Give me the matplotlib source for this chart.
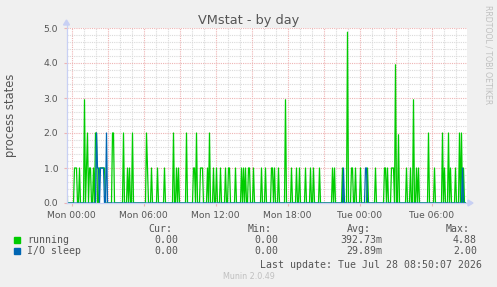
import numpy as np
import matplotlib
matplotlib.use("Agg")
import matplotlib.pyplot as plt
from matplotlib.ticker import FixedLocator
from matplotlib.patches import Rectangle, Polygon

# ---------------- data (minutes since Mon 00:00, 5-minute samples) ----------------
start_min = -25
n_samples = 400
step_min = 5

running_minutes = [-25, 15, 20, 25, 40, 65, 75, 80, 90, 95, 110, 120, 125, 140, 145, 150, 155,
                   160, 165, 205, 210, 260, 280, 290, 305, 375, 380, 400, 430, 465, 510, 525,
                   535, 575, 610, 615, 625, 645, 650, 655, 680, 690, 710, 725, 745, 770, 785,
                   790, 820, 850, 860, 870, 885, 890, 910, 950, 970, 1000, 1005, 1015, 1035,
                   1070, 1100, 1125, 1140, 1170, 1195, 1210, 1240, 1305, 1315, 1355, 1380,
                   1400, 1405, 1420, 1445, 1480, 1520, 1565, 1570, 1580, 1600, 1605, 1610,
                   1620, 1635, 1675, 1695, 1710, 1725, 1735, 1785, 1815, 1855, 1865, 1885,
                   1895, 1920, 1940, 1950, 1960]
running_values = [2, 1, 1, 1, 1, 2.95, 1, 2, 1, 1, 1, 2, 2, 1, 1, 1, 1,
                  1, 1, 2, 2, 2, 1, 1, 2, 2, 1, 1, 1, 1, 2, 1,
                  1, 2, 1, 1, 2, 1, 1, 1, 1, 2, 1, 1, 1, 1, 1,
                  1, 1, 1, 1, 1, 1, 1, 1, 1, 1, 1, 1, 1, 1,
                  2.95, 1, 1, 1, 1, 1, 1, 1, 1, 1, 1, 4.88,
                  1, 1, 1, 1, 1, 1, 1, 1, 1, 1, 1, 1,
                  3.95, 1.95, 1, 1, 2.95, 1, 1, 2, 1, 2, 1, 2,
                  1, 1, 2, 2, 1]

iosleep_minutes = [125, 130, 135, 145, 150, 155, 160, 175, 1360, 1470, 1475, 1955]
iosleep_values = [2, 1, 1, 1, 1, 1, 1, 2, 1, 1, 1, 1]

legend_names = ["running", "I/O sleep"]
legend_cur = ["0.00", "0.00"]
legend_min = ["0.00", "0.00"]
legend_avg = ["392.73m", "29.89m"]
legend_max = ["4.88", "2.00"]
x_tick_labels = ["Mon 00:00", "Mon 06:00", "Mon 12:00", "Mon 18:00", "Tue 00:00", "Tue 06:00"]
x_tick_hours = [0, 6, 12, 18, 24, 30]
y_tick_values = [0.0, 1.0, 2.0, 3.0, 4.0, 5.0]

# ---------------- build series ----------------
t_min = start_min + step_min * np.arange(n_samples)
running = np.zeros(n_samples)
iosleep = np.zeros(n_samples)
for m, v in zip(running_minutes, running_values):
    running[(m - start_min) // step_min] = v
for m, v in zip(iosleep_minutes, iosleep_values):
    iosleep[(m - start_min) // step_min] = v
t_h = t_min / 60.0

# ---------------- figure ----------------
W, H = 497, 287
fig = plt.figure(figsize=(W / 100, H / 100), dpi=100, facecolor="#F0F0F0")

def fx(x):
    return x / W

def fy(y):
    return 1 - y / H

L, R, T, B = 66.5, 467, 28, 203
ax = fig.add_axes([fx(L), fy(B), fx(R) - fx(L), fy(T) - fy(B)])
ax.set_facecolor("white")

TXT = "#555555"
GREEN = "#00CC00"
BLUE = "#0066B3"
MINOR = "#DADADA"
MAJOR = "#EEB4B4"

xmin = start_min / 60.0
xmax = (start_min + step_min * 400.5) / 60.0
ax.set_xlim(xmin, xmax)
ax.set_ylim(0, 5.0)

# grid
for h in np.arange(0, 33, 1):
    if h % 3 == 0:
        continue
    ax.axvline(h, color=MINOR, lw=0.8, ls=(0, (1, 1)), zorder=1)
for yv in np.arange(0.2, 5.0, 0.2):
    if abs(yv - round(yv)) < 1e-6:
        continue
    ax.axhline(yv, color=MINOR, lw=0.8, ls=(0, (1, 1)), zorder=1)
for h in np.arange(0, 33, 3):
    ax.axvline(h, color=MAJOR, lw=0.8, ls=(0, (1, 1)), zorder=1.5)
for yv in y_tick_values[1:]:
    ax.axhline(yv, color=MAJOR, lw=0.8, ls=(0, (1, 1)), zorder=1.5)

# series
ax.plot(t_h, running, color=GREEN, lw=0.9, zorder=3)
ax.plot(t_h, iosleep, color=BLUE, lw=0.9, zorder=4)

for s in ax.spines.values():
    s.set_visible(False)

ax.xaxis.set_major_locator(FixedLocator(x_tick_hours))
ax.set_xticklabels(x_tick_labels)
ax.yaxis.set_major_locator(FixedLocator(y_tick_values))
ax.set_yticklabels([f"{v:.1f}" for v in y_tick_values])
ax.tick_params(axis="x", length=2, width=0.8, color=MAJOR, labelsize=6.6,
               labelcolor=TXT, pad=4)
ax.tick_params(axis="y", length=2, width=0.8, color=MAJOR, labelsize=6.7,
               labelcolor=TXT, pad=4)

# axis lines and arrows (light blue)
AX = "#C8D0F4"
fig.add_artist(plt.Line2D([fx(L), fx(470)], [fy(B), fy(B)], color=AX, lw=0.9))
fig.add_artist(plt.Line2D([fx(L), fx(L)], [fy(B), fy(24)], color=AX, lw=0.9))
fig.add_artist(Polygon([[fx(L - 3), fy(25)], [fx(L + 3), fy(25)], [fx(L), fy(20)]],
                       closed=True, color=AX, transform=fig.transFigure))
fig.add_artist(Polygon([[fx(468), fy(B - 3)], [fx(468), fy(B + 3)], [fx(473), fy(B)]],
                       closed=True, color=AX, transform=fig.transFigure))

# title and labels
fig.text(fx(248.5), fy(24), "VMstat - by day", ha="center", va="baseline",
         fontsize=9.3, color=TXT)
fig.text(fx(11), fy(115), "process states", ha="center", va="center",
         rotation=90, fontsize=8.3, color=TXT)
fig.text(fx(488), fy(5), "RRDTOOL / TOBI OETIKER", ha="center", va="top",
         rotation=270, fontsize=5.6, color="#C0C0C0")

# legend
MONO = "DejaVu Sans Mono"
LFS = 7.1
fig.text(fx(172), fy(232), "Cur:", ha="right", va="baseline", family=MONO, fontsize=LFS, color=TXT)
fig.text(fx(272), fy(232), "Min:", ha="right", va="baseline", family=MONO, fontsize=LFS, color=TXT)
fig.text(fx(371), fy(232), "Avg:", ha="right", va="baseline", family=MONO, fontsize=LFS, color=TXT)
fig.text(fx(470), fy(232), "Max:", ha="right", va="baseline", family=MONO, fontsize=LFS, color=TXT)

rows_y = [243, 254.3]
colors = [GREEN, BLUE]
for name, c, cur, mn, av, mx, yb in zip(legend_names, colors, legend_cur, legend_min,
                                        legend_avg, legend_max, rows_y):
    fig.add_artist(Rectangle((fx(14), fy(yb - 0.5)), fx(6), 6 / H, color=c,
                             transform=fig.transFigure))
    fig.text(fx(27), fy(yb), name, ha="left", va="baseline", family=MONO, fontsize=LFS, color=TXT)
    fig.text(fx(178), fy(yb), cur, ha="right", va="baseline", family=MONO, fontsize=LFS, color=TXT)
    fig.text(fx(278), fy(yb), mn, ha="right", va="baseline", family=MONO, fontsize=LFS, color=TXT)
    fig.text(fx(382), fy(yb), av, ha="right", va="baseline", family=MONO, fontsize=LFS, color=TXT)
    fig.text(fx(477), fy(yb), mx, ha="right", va="baseline", family=MONO, fontsize=LFS, color=TXT)

fig.text(fx(482), fy(267.5), "Last update: Tue Jul 28 08:50:07 2026", ha="right",
         va="baseline", family=MONO, fontsize=LFS, color=TXT)
fig.text(fx(248.5), fy(279), "Munin 2.0.49", ha="center", va="baseline",
         fontsize=5.8, color="#C0C0C0")

fig.savefig("out.png", dpi=100, facecolor=fig.get_facecolor())
